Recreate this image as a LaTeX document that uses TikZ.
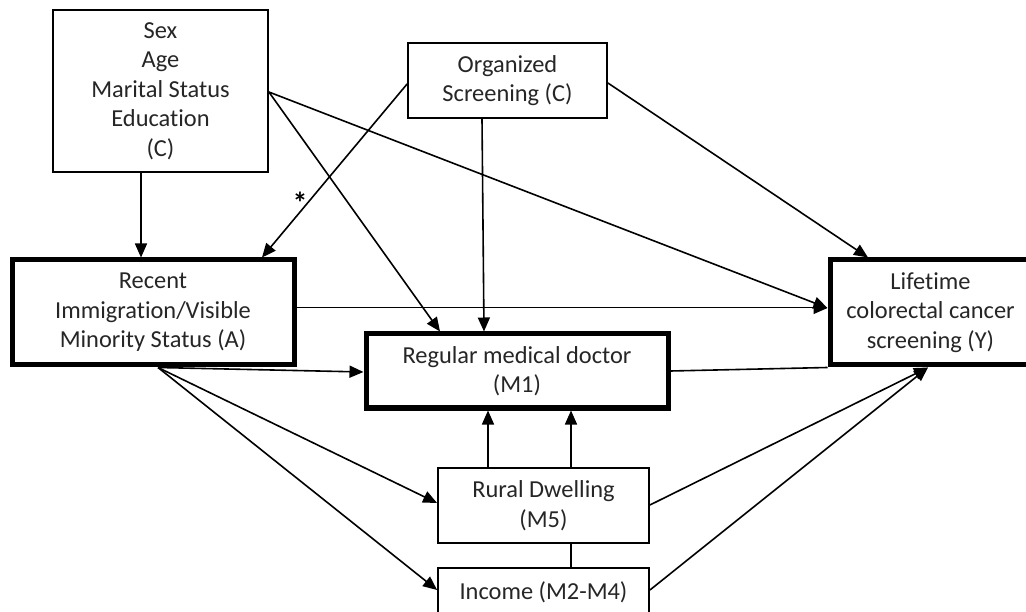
\documentclass[tikz,border=0pt]{standalone}
\usepackage{fontspec}
\setmainfont{Carlito}[Ligatures=NoCommon]
\usetikzlibrary{arrows.meta,backgrounds}
\begin{document}
\begin{tikzpicture}[x=1pt,y=-1pt,
  box/.style={draw, line width=1.8pt, fill=white, align=center, inner sep=0pt,
    font=\fontsize{24.4}{29.5}\selectfont, text=black!85},
  bold/.style={box, line width=5pt},
  arr/.style={-{Triangle[length=14pt,width=12pt]}, line width=1.6pt},
  thinarr/.style={arr, line width=1pt},
  plain/.style={line width=1.6pt}]
\useasboundingbox (0,0) rectangle (1026,612);
\node[box, minimum width=215pt, minimum height=162pt] (demo) at (160.5,91) {Sex\\Age\\Marital Status\\Education\\(C)};
\node[box, minimum width=199pt, minimum height=75pt] (org) at (507.5,80.5) {Organized\\Screening (C)};
\node[bold, minimum width=282pt, minimum height=105pt] (rec) at (153,312.5) {Recent\\Immigration/Visible\\Minority Status (A)};
\node[bold, minimum width=302pt, minimum height=74pt] (m1) at (517,371) {Regular medical doctor\\(M1)};
\node[bold, minimum width=201pt, minimum height=105pt] (life) at (930.5,312.5) {Lifetime\\colorectal cancer\\screening (Y)};
\node[box, minimum width=211pt, minimum height=75pt] (rural) at (543.5,505.5) {Rural Dwelling\\(M5)};
\node[box, minimum width=211pt, minimum height=48pt] (inc) at (543.5,592) {Income (M2-M4)};
\node[font=\fontsize{30}{30}\bfseries] (star) at (300,203) {*};

\begin{scope}[on background layer]
\draw[arr] ([xshift=27.5pt]inc.north) -- ([xshift=54pt]m1.south);
\end{scope}
\draw[arr] ([xshift=-19.5pt]demo.south) -- ([xshift=-12pt]rec.north);
\draw[arr] ([yshift=-1pt]demo.east) -- ([xshift=-77pt]m1.north);
\draw[arr] ([yshift=-1pt]demo.east) -- ([yshift=4.5pt]life.west);
\draw[arr] ([yshift=-3.5pt]org.west) -- ([xshift=109pt]rec.north);
\draw[arr] ([xshift=-25.5pt]org.south) -- ([xshift=-33pt]m1.north);
\draw[arr] ([yshift=-2.5pt]org.east) -- ([xshift=-62.5pt]life.north);
\draw[thinarr] ([yshift=4.5pt]rec.east) -- ([yshift=4.5pt]life.west);
\draw[arr] ([xshift=5pt]rec.south) -- ([yshift=-1pt]m1.west);
\draw[arr] ([xshift=5pt]rec.south) -- ([yshift=2.5pt]rural.west);
\draw[arr] ([xshift=5pt]rec.south) -- ([yshift=2pt]inc.west);
\draw[arr] ([xshift=-55.5pt]rural.north) -- ([xshift=-29pt]m1.south);
\draw[plain] (m1.east) -- (life.south west);
\draw[arr] ([yshift=0.5pt]rural.east) -- ([xshift=-2.5pt]life.south);
\draw[arr] ([yshift=2pt]inc.east) -- ([xshift=-2.5pt]life.south);
\end{tikzpicture}
\end{document}
